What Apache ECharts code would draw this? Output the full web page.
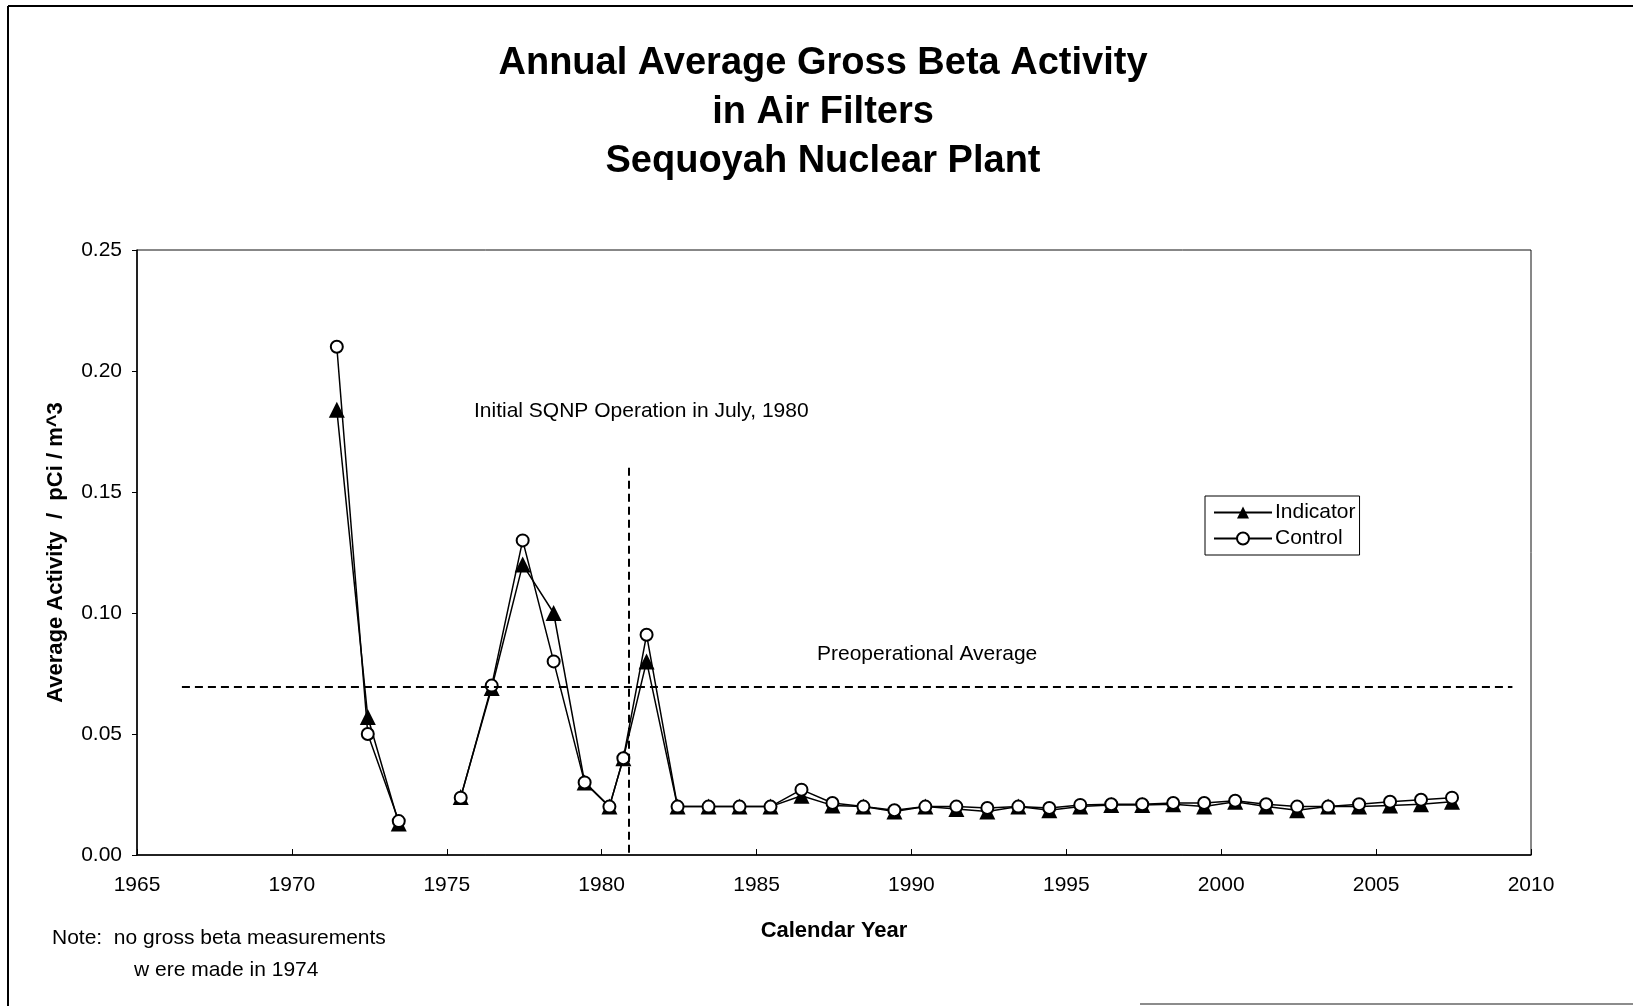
<!DOCTYPE html>
<html>
<head>
<meta charset="utf-8">
<title>Annual Average Gross Beta Activity in Air Filters</title>
<script src="https://cdn.jsdelivr.net/npm/echarts@6/dist/echarts.min.js"></script>
<style>
  html, body { margin: 0; padding: 0; background: #fff; }
  #chart { width: 1633px; height: 1006px; }
</style>
</head>
<body>
<div id="chart"></div>
<script>
// sample positions on the calendar-year axis (1980 is split pre/post startup, 1974 has no data)
const years = [1971.45, 1972.45, 1973.45, 1974.45, 1975.45, 1976.45, 1977.45, 1978.45, 1979.45,
  1980.25, 1980.7, 1981.45, 1982.45, 1983.45, 1984.45, 1985.45, 1986.45, 1987.45, 1988.45,
  1989.45, 1990.45, 1991.45, 1992.45, 1993.45, 1994.45, 1995.45, 1996.45, 1997.45, 1998.45,
  1999.45, 2000.45, 2001.45, 2002.45, 2003.45, 2004.45, 2005.45, 2006.45, 2007.45]

const indicator = [0.184, 0.057, 0.013, '-', 0.024, 0.069, 0.120, 0.100, 0.030,
  0.020, 0.040, 0.080, 0.020, 0.020, 0.020, 0.020, 0.0245, 0.0205, 0.020,
  0.018, 0.020, 0.019, 0.018, 0.020, 0.0185, 0.020, 0.0207, 0.0207, 0.021,
  0.020, 0.022, 0.020, 0.0185, 0.020, 0.020, 0.0205, 0.021, 0.022]

const control = [0.210, 0.050, 0.014, '-', 0.0237, 0.070, 0.130, 0.080, 0.030,
  0.020, 0.040, 0.091, 0.020, 0.020, 0.020, 0.020, 0.027, 0.0215, 0.020,
  0.0185, 0.020, 0.020, 0.0194, 0.020, 0.0194, 0.0207, 0.021, 0.021, 0.0215,
  0.0215, 0.0224, 0.021, 0.020, 0.020, 0.021, 0.022, 0.0228, 0.0237]

const yTicks = [0, 0.05, 0.10, 0.15, 0.20, 0.25]
const xTicks = [1965, 1970, 1975, 1980, 1985, 1990, 1995, 2000, 2005, 2010]

const preopAverage = 0.0697
const preopSpan = [1966.45, 2009.4]
const startupYear = 1980.88
const startupTop = 0.16

const FONT = "'Liberation Sans', Arial, sans-serif"

const chart = echarts.init(document.getElementById('chart'))

const pairs = (vals) => years.map((x, i) => [x, vals[i]])

const options = {
  backgroundColor: '#fff',
  animation: false,
  textStyle: { fontFamily: FONT, color: '#000' },
  grid: {
    left: 137,
    right: 102,
    top: 250,
    bottom: 151,
    show: true,
    borderColor: '#111',
    borderWidth: 1,
  },
  legend: {
    left: 1205,
    top: 496,
    orient: 'vertical',
    data: ['Indicator', 'Control'],
    itemWidth: 58,
    itemHeight: 15,
    itemGap: 5,
    padding: [6, 4, 6, 8],
    borderColor: '#000',
    borderWidth: 1,
    backgroundColor: '#fff',
    textStyle: { fontFamily: FONT, fontSize: 21, color: '#000', padding: [0, 0, 0, -2] },
  },
  xAxis: {
    type: 'value',
    min: xTicks[0],
    max: xTicks[xTicks.length - 1],
    interval: 5,
    name: 'Calendar Year',
    nameLocation: 'middle',
    nameGap: 76,
    nameTextStyle: { fontFamily: FONT, fontSize: 22, fontWeight: 'bold', color: '#000', verticalAlign: 'middle' },
    axisLine: { lineStyle: { color: '#000', width: 1.5 } },
    axisTick: { inside: true, length: 6, lineStyle: { color: '#000' } },
    axisLabel: { fontFamily: FONT, fontSize: 21, color: '#000', margin: 20, formatter: v => String(v) },
    splitLine: { show: false },
  },
  yAxis: {
    type: 'value',
    min: yTicks[0],
    max: yTicks[yTicks.length - 1],
    interval: 0.05,
    name: 'Average Activity  /  pCi / m^3',
    nameLocation: 'middle',
    nameGap: 70,
    nameTextStyle: { fontFamily: FONT, fontSize: 22, fontWeight: 'bold', color: '#000' },
    axisLine: { show: true, lineStyle: { color: '#000', width: 1.5 } },
    axisTick: { show: true, length: 5, lineStyle: { color: '#000' } },
    axisLabel: { fontFamily: FONT, fontSize: 21, color: '#000', margin: 15, formatter: v => v.toFixed(2) },
    splitLine: { show: false },
  },
  series: [
    {
      name: 'Indicator',
      type: 'line',
      data: pairs(indicator),
      connectNulls: false,
      symbol: 'triangle',
      symbolSize: 16,
      itemStyle: { color: '#000' },
      lineStyle: { color: '#000', width: 1.5 },
      z: 2,
    },
    {
      name: 'Control',
      type: 'line',
      data: pairs(control),
      connectNulls: false,
      symbol: 'circle',
      symbolSize: 12,
      showAllSymbol: true,
      itemStyle: { color: '#fff', borderColor: '#000', borderWidth: 2 },
      lineStyle: { color: '#000', width: 1.5 },
      z: 3,
      markLine: {
        silent: true,
        symbol: 'none',
        label: { show: false },
        lineStyle: { color: '#000', width: 2, type: [8, 5] },
        data: [
          [{ coord: [preopSpan[0], preopAverage] }, { coord: [preopSpan[1], preopAverage] }],
          [{ coord: [startupYear, startupTop] }, { coord: [startupYear, 0] }],
        ],
      },
    },
  ],
  graphic: [
    {
      type: 'text', x: 823, y: 113,
      style: {
        text: 'Annual Average Gross Beta Activity\nin Air Filters\nSequoyah Nuclear Plant',
        font: 'bold 38px ' + FONT, lineHeight: 49, align: 'center', verticalAlign: 'middle', fill: '#000',
      },
    },
    {
      type: 'text', x: 474, y: 411,
      style: { text: 'Initial SQNP Operation in July, 1980', font: '21px ' + FONT, verticalAlign: 'middle', fill: '#000' },
    },
    {
      type: 'text', x: 817, y: 654,
      style: { text: 'Preoperational Average', font: '21px ' + FONT, verticalAlign: 'middle', fill: '#000' },
    },
    {
      type: 'text', x: 52, y: 938,
      style: { text: 'Note:  no gross beta measurements', font: '21px ' + FONT, verticalAlign: 'middle', fill: '#000' },
    },
    {
      type: 'text', x: 134, y: 970,
      style: { text: 'w ere made in 1974', font: '21px ' + FONT, verticalAlign: 'middle', fill: '#000' },
    },
    // page frame
    { type: 'line', shape: { x1: 8, y1: 6, x2: 8, y2: 1006 }, style: { stroke: '#000', lineWidth: 2 } },
    { type: 'line', shape: { x1: 8, y1: 6, x2: 1633, y2: 6 }, style: { stroke: '#000', lineWidth: 2 } },
    { type: 'line', shape: { x1: 1140, y1: 1004, x2: 1633, y2: 1004 }, style: { stroke: '#666', lineWidth: 1.5 } },
  ],
}

chart.setOption(options)
</script>
</body>
</html>
